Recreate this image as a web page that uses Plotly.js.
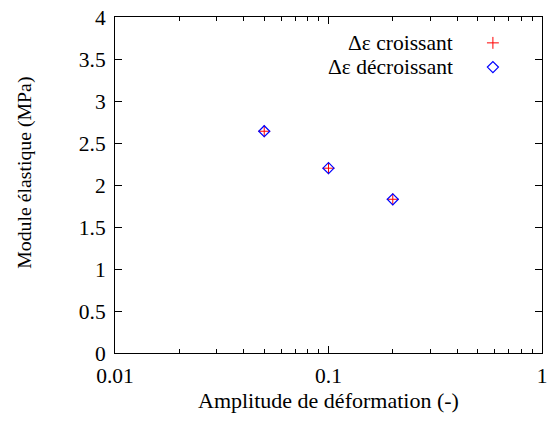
<!DOCTYPE html>
<html><head><meta charset="utf-8">
<script src="https://cdn.plot.ly/plotly-3.0.1.min.js"></script>
<style>body{margin:0;padding:0;background:#fff}#chart{width:548px;height:425px}</style>
</head><body><div id="chart"></div>
<script>
const amplitude = [0.05, 0.1, 0.2];
const moduleCroissant = [2.64, 2.20, 1.83];
const moduleDecroissant = [2.64, 2.20, 1.83];
const seriesNames = ["Δε croissant", "Δε décroissant"];
const yTicks = [0, 0.5, 1, 1.5, 2, 2.5, 3, 3.5, 4];
const yTickText = ["0", "0.5", "1", "1.5", "2", "2.5", "3", "3.5", "4"];
const xTicks = [0.01, 0.1, 1];
const xTickText = ["0.01", "0.1", "1"];
const xMinorTicks = [0.02, 0.03, 0.04, 0.05, 0.06, 0.07, 0.08, 0.09, 0.2, 0.3, 0.4, 0.5, 0.6, 0.7, 0.8, 0.9];
const xTitle = "Amplitude de déformation (-)";
const yTitle = "Module élastique (MPa)";

const font = {family: "Liberation Serif", size: 21.5, color: "#000"};
const xTitleFont = {family: "Liberation Serif", size: 22, color: "#000"};
const yTitleFont = {family: "Liberation Serif", size: 19.8, color: "#000"};

const plusMarker = {symbol: "cross-thin-open", size: 8.5, color: "#ff0000", line: {color: "#ff0000", width: 1}};
const diamondMarker = {symbol: "diamond-open", size: 8.5, color: "#0000ff", line: {color: "#0000ff", width: 1.2}};

const traces = [
  {x: amplitude, y: moduleCroissant, mode: "markers", type: "scatter", name: seriesNames[0], marker: plusMarker, showlegend: false},
  {x: amplitude, y: moduleDecroissant, mode: "markers", type: "scatter", name: seriesNames[1], marker: diamondMarker, showlegend: false},
  // legend keys
  {x: [0.885], y: [0.923], xaxis: "x2", yaxis: "y2", mode: "markers", type: "scatter", showlegend: false, hoverinfo: "skip", marker: plusMarker},
  {x: [0.885], y: [0.851], xaxis: "x2", yaxis: "y2", mode: "markers", type: "scatter", showlegend: false, hoverinfo: "skip", marker: diamondMarker}
];

const layout = {
  width: 548, height: 425,
  margin: {l: 115, r: 6, t: 17, b: 72},
  paper_bgcolor: "#fff", plot_bgcolor: "#fff",
  font: font,
  showlegend: false,
  xaxis: {
    type: "log", range: [-2, 0], tickmode: "array", tickvals: xTicks, ticktext: xTickText,
    ticks: "inside", ticklen: 7, tickcolor: "#000", tickwidth: 1, ticklabelstandoff: 3,
    showline: true, linecolor: "#000", linewidth: 1, mirror: "ticks",
    showgrid: false, zeroline: false, tickfont: font,
    minor: {tickmode: "array", tickvals: xMinorTicks, ticks: "inside", ticklen: 4, tickcolor: "#000", tickwidth: 1, showgrid: false}
  },
  yaxis: {
    range: [0, 4], tickmode: "array", tickvals: yTicks, ticktext: yTickText,
    ticks: "inside", ticklen: 7, tickcolor: "#000", tickwidth: 1, ticklabelstandoff: 4,
    showline: true, linecolor: "#000", linewidth: 1, mirror: "ticks",
    showgrid: false, zeroline: false, tickfont: font
  },
  xaxis2: {overlaying: "x", range: [0, 1], visible: false, fixedrange: true},
  yaxis2: {overlaying: "y", range: [0, 1], visible: false, fixedrange: true},
  annotations: [
    {xref: "paper", yref: "paper", x: 0.5, y: -0.14, xanchor: "center", yanchor: "middle", text: xTitle, showarrow: false, font: xTitleFont},
    {xref: "paper", yref: "paper", x: -0.211, y: 0.536, xanchor: "center", yanchor: "middle", text: yTitle, textangle: -90, showarrow: false, font: yTitleFont},
    {xref: "paper", yref: "paper", x: 0.797, y: 0.923, xanchor: "right", yanchor: "middle", text: seriesNames[0], showarrow: false, font: font},
    {xref: "paper", yref: "paper", x: 0.797, y: 0.851, xanchor: "right", yanchor: "middle", text: seriesNames[1], showarrow: false, font: font}
  ]
};

Plotly.newPlot("chart", traces, layout, {displayModeBar: false, staticPlot: true});
</script></body></html>
